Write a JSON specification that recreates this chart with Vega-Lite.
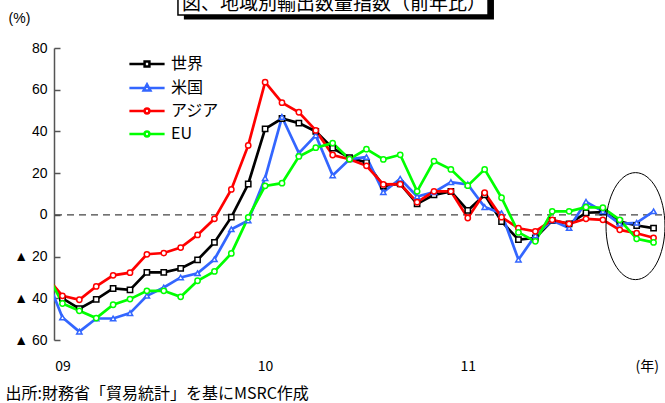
{
  "$schema": "https://vega.github.io/schema/vega-lite/v6.json",
  "autosize": {"type": "none"},
  "width": 608,
  "height": 292,
  "padding": {"left": 54, "top": 48, "right": 3, "bottom": 63},
  "background": "white",
  "config": {"view": {"stroke": null}},
  "datasets": {
    "series": [
      {"m": -1, "s": "世界", "v": -28.7}, {"m": 0, "s": "世界", "v": -40}, {"m": 1, "s": "世界", "v": -45}, {"m": 2, "s": "世界", "v": -40.5}, {"m": 3, "s": "世界", "v": -35.3}, {"m": 4, "s": "世界", "v": -36}, {"m": 5, "s": "世界", "v": -27.6}, {"m": 6, "s": "世界", "v": -27.6}, {"m": 7, "s": "世界", "v": -25.7}, {"m": 8, "s": "世界", "v": -21.6}, {"m": 9, "s": "世界", "v": -13.2}, {"m": 10, "s": "世界", "v": -1.1}, {"m": 11, "s": "世界", "v": 14.8}, {"m": 12, "s": "世界", "v": 41.2}, {"m": 13, "s": "世界", "v": 46.2}, {"m": 14, "s": "世界", "v": 44}, {"m": 15, "s": "世界", "v": 40}, {"m": 16, "s": "世界", "v": 32}, {"m": 17, "s": "世界", "v": 27.4}, {"m": 18, "s": "世界", "v": 25.1}, {"m": 19, "s": "世界", "v": 13.8}, {"m": 20, "s": "世界", "v": 14.9}, {"m": 21, "s": "世界", "v": 5.3}, {"m": 22, "s": "世界", "v": 9.6}, {"m": 23, "s": "世界", "v": 11.2}, {"m": 24, "s": "世界", "v": 2.1}, {"m": 25, "s": "世界", "v": 9.6}, {"m": 26, "s": "世界", "v": -3.2}, {"m": 27, "s": "世界", "v": -11.9}, {"m": 28, "s": "世界", "v": -11.1}, {"m": 29, "s": "世界", "v": -2.7}, {"m": 30, "s": "世界", "v": -4.3}, {"m": 31, "s": "世界", "v": 1}, {"m": 32, "s": "世界", "v": 1.3}, {"m": 33, "s": "世界", "v": -3.2}, {"m": 34, "s": "世界", "v": -5.1}, {"m": 35, "s": "世界", "v": -6.4},
      {"m": -1, "s": "米国", "v": -29}, {"m": 0, "s": "米国", "v": -49.2}, {"m": 1, "s": "米国", "v": -56}, {"m": 2, "s": "米国", "v": -49.7}, {"m": 3, "s": "米国", "v": -49.7}, {"m": 4, "s": "米国", "v": -47.1}, {"m": 5, "s": "米国", "v": -38.8}, {"m": 6, "s": "米国", "v": -34.8}, {"m": 7, "s": "米国", "v": -30}, {"m": 8, "s": "米国", "v": -28}, {"m": 9, "s": "米国", "v": -21.3}, {"m": 10, "s": "米国", "v": -6.9}, {"m": 11, "s": "米国", "v": -2.7}, {"m": 12, "s": "米国", "v": 17.6}, {"m": 13, "s": "米国", "v": 46.9}, {"m": 14, "s": "米国", "v": 29.6}, {"m": 15, "s": "米国", "v": 38.1}, {"m": 16, "s": "米国", "v": 18.9}, {"m": 17, "s": "米国", "v": 26.7}, {"m": 18, "s": "米国", "v": 27.7}, {"m": 19, "s": "米国", "v": 10.9}, {"m": 20, "s": "米国", "v": 17.3}, {"m": 21, "s": "米国", "v": 8.8}, {"m": 22, "s": "米国", "v": 10.9}, {"m": 23, "s": "米国", "v": 15.7}, {"m": 24, "s": "米国", "v": 14.6}, {"m": 25, "s": "米国", "v": 3.7}, {"m": 26, "s": "米国", "v": 0.8}, {"m": 27, "s": "米国", "v": -21.5}, {"m": 28, "s": "米国", "v": -9.9}, {"m": 29, "s": "米国", "v": -2.7}, {"m": 30, "s": "米国", "v": -6.3}, {"m": 31, "s": "米国", "v": 6.3}, {"m": 32, "s": "米国", "v": 1.7}, {"m": 33, "s": "米国", "v": -4.3}, {"m": 34, "s": "米国", "v": -3.8}, {"m": 35, "s": "米国", "v": 1.7},
      {"m": -1, "s": "アジア", "v": -29.3}, {"m": 0, "s": "アジア", "v": -38.8}, {"m": 1, "s": "アジア", "v": -40.7}, {"m": 2, "s": "アジア", "v": -34.3}, {"m": 3, "s": "アジア", "v": -29}, {"m": 4, "s": "アジア", "v": -27.7}, {"m": 5, "s": "アジア", "v": -18.9}, {"m": 6, "s": "アジア", "v": -18.3}, {"m": 7, "s": "アジア", "v": -15.7}, {"m": 8, "s": "アジア", "v": -9.6}, {"m": 9, "s": "アジア", "v": -1.9}, {"m": 10, "s": "アジア", "v": 12.2}, {"m": 11, "s": "アジア", "v": 33.3}, {"m": 12, "s": "アジア", "v": 63.6}, {"m": 13, "s": "アジア", "v": 53.8}, {"m": 14, "s": "アジア", "v": 49.2}, {"m": 15, "s": "アジア", "v": 40.5}, {"m": 16, "s": "アジア", "v": 28.7}, {"m": 17, "s": "アジア", "v": 26.7}, {"m": 18, "s": "アジア", "v": 23.5}, {"m": 19, "s": "アジア", "v": 14.6}, {"m": 20, "s": "アジア", "v": 14.7}, {"m": 21, "s": "アジア", "v": 6.1}, {"m": 22, "s": "アジア", "v": 11.3}, {"m": 23, "s": "アジア", "v": 11.3}, {"m": 24, "s": "アジア", "v": -1.5}, {"m": 25, "s": "アジア", "v": 10.6}, {"m": 26, "s": "アジア", "v": -1.1}, {"m": 27, "s": "アジア", "v": -6.4}, {"m": 28, "s": "アジア", "v": -7.9}, {"m": 29, "s": "アジア", "v": -2.4}, {"m": 30, "s": "アジア", "v": -4.3}, {"m": 31, "s": "アジア", "v": -1.9}, {"m": 32, "s": "アジア", "v": -2.4}, {"m": 33, "s": "アジア", "v": -7.2}, {"m": 34, "s": "アジア", "v": -8.8}, {"m": 35, "s": "アジア", "v": -11},
      {"m": -1, "s": "EU", "v": -26.8}, {"m": 0, "s": "EU", "v": -42.5}, {"m": 1, "s": "EU", "v": -46}, {"m": 2, "s": "EU", "v": -49.5}, {"m": 3, "s": "EU", "v": -43.1}, {"m": 4, "s": "EU", "v": -40.4}, {"m": 5, "s": "EU", "v": -36.4}, {"m": 6, "s": "EU", "v": -36.4}, {"m": 7, "s": "EU", "v": -39.3}, {"m": 8, "s": "EU", "v": -31.6}, {"m": 9, "s": "EU", "v": -27.1}, {"m": 10, "s": "EU", "v": -18.5}, {"m": 11, "s": "EU", "v": -1.2}, {"m": 12, "s": "EU", "v": 13.9}, {"m": 13, "s": "EU", "v": 15.2}, {"m": 14, "s": "EU", "v": 28}, {"m": 15, "s": "EU", "v": 32.2}, {"m": 16, "s": "EU", "v": 34.4}, {"m": 17, "s": "EU", "v": 26.7}, {"m": 18, "s": "EU", "v": 31.5}, {"m": 19, "s": "EU", "v": 26.6}, {"m": 20, "s": "EU", "v": 28.8}, {"m": 21, "s": "EU", "v": 11.3}, {"m": 22, "s": "EU", "v": 25.8}, {"m": 23, "s": "EU", "v": 21.8}, {"m": 24, "s": "EU", "v": 14}, {"m": 25, "s": "EU", "v": 21.8}, {"m": 26, "s": "EU", "v": 8.2}, {"m": 27, "s": "EU", "v": -8.4}, {"m": 28, "s": "EU", "v": -12.7}, {"m": 29, "s": "EU", "v": 1.7}, {"m": 30, "s": "EU", "v": 1.7}, {"m": 31, "s": "EU", "v": 3.7}, {"m": 32, "s": "EU", "v": 3.4}, {"m": 33, "s": "EU", "v": -2.4}, {"m": 34, "s": "EU", "v": -11.5}, {"m": 35, "s": "EU", "v": -13.2}
    ],
    "one": [{}]
  },
  "layer": [
    {
      "data": {"name": "one"},
      "mark": {"type": "rule", "stroke": "#444444", "strokeWidth": 1.2, "strokeDash": [7, 5]},
      "encoding": {"y": {"datum": 0, "type": "quantitative"}}
    },
    {
      "data": {"name": "series"},
      "mark": {"type": "line", "strokeWidth": 2.7, "clip": true},
      "encoding": {
        "x": {"field": "m", "type": "quantitative", "scale": {"domain": [-0.5, 35.5], "nice": false, "zero": false},
          "axis": {"values": [0, 12, 24, 34.6], "labelExpr": "datum.value == 0 ? '09' : datum.value == 12 ? '10' : datum.value == 24 ? '11' : '(年)'",
            "domain": false, "ticks": false, "grid": false, "labelPadding": 26, "labelFont": "Noto Sans CJK JP", "labelFontSize": 14, "labelColor": "#000000", "labelBaseline": "middle",
            "title": "出所:財務省「貿易統計」を基にMSRC作成", "titleX": -49, "titleY": 53, "titleAlign": "left", "titleBaseline": "middle", "titleFont": "Noto Sans CJK JP", "titleFontSize": 16, "titleFontWeight": "normal", "titleColor": "#000000"}},
        "y": {"field": "v", "type": "quantitative", "scale": {"domain": [-60, 80], "nice": false},
          "axis": {"values": [-60, -40, -20, 0, 20, 40, 60, 80], "labelExpr": "datum.value < 0 ? '▲ ' + abs(datum.value) : '' + datum.value",
            "grid": false, "domainColor": "#555555", "domainWidth": 1.5, "tickColor": "#555555", "tickWidth": 1.5, "tickSize": -6, "labelPadding": 13,
            "labelFont": "Liberation Sans", "labelFontSize": 14, "labelColor": "#000000",
            "title": "(%)", "titleAngle": 0, "titleX": -35, "titleY": -30, "titleAlign": "center", "titleBaseline": "middle", "titleFont": "Liberation Sans", "titleFontSize": 14, "titleFontWeight": "normal", "titleColor": "#000000"}},
        "stroke": {"field": "s", "type": "nominal",
          "scale": {"domain": ["世界", "米国", "アジア", "EU"], "range": ["#000000", "#3366ff", "#ff0000", "#00ff00"]},
          "legend": {"title": null, "orient": "none", "legendX": 85, "legendY": 8, "rowPadding": 7, "labelOffset": 16,
            "labelFont": "Noto Sans CJK JP", "labelFontSize": 16, "labelColor": "#000000", "symbolSize": 64, "symbolStrokeWidth": 2.5,
            "encode": {"symbols": {"update": {
              "fill": {"value": "#ffffff"},
              "shape": {"signal": "datum.value === '世界' ? 'M -4.4 0 H -0.6 M 0.6 0 H 4.4 M -0.6 -0.6 H 0.6 V 0.6 H -0.6 Z' : datum.value === '米国' ? 'M -4.4 0 H -0.5 M 0.5 0 H 4.4 M 0 -0.9 L 0.85 0.65 L -0.85 0.65 Z' : 'M -4.4 0 H -0.6 M 0.6 0 H 4.4 M 0.6 0 A 0.6 0.6 0 1 1 -0.6 0 A 0.6 0.6 0 1 1 0.6 0 Z'"}
            }}}}},
        "detail": {"field": "s", "type": "nominal"}
      }
    },
    {
      "data": {"name": "series"},
      "mark": {"type": "point", "filled": false, "fill": "#ffffff", "fillOpacity": 1, "strokeWidth": 1.5, "size": 28, "clip": true, "opacity": 1,
        "shape": {"expr": "datum.s === '世界' ? 'square' : datum.s === '米国' ? 'triangle-up' : 'circle'"}},
      "encoding": {
        "x": {"field": "m", "type": "quantitative"},
        "y": {"field": "v", "type": "quantitative"},
        "stroke": {"field": "s", "type": "nominal"}
      }
    },
    {
      "data": {"name": "one"},
      "mark": {"type": "rect", "fill": "#000000", "clip": false},
      "encoding": {"x": {"datum": 7.19}, "x2": {"datum": 25.55}, "y": {"datum": 93.7}, "y2": {"datum": 112}}
    },
    {
      "data": {"name": "one"},
      "mark": {"type": "rect", "fill": "#ffffff", "stroke": "#000000", "strokeWidth": 1.5, "clip": false},
      "encoding": {"x": {"datum": 6.84}, "x2": {"datum": 25.2}, "y": {"datum": 95.8}, "y2": {"datum": 112}}
    },
    {
      "data": {"name": "one"},
      "mark": {"type": "text", "font": "Noto Sans CJK JP", "fontSize": 19, "align": "center", "baseline": "alphabetic", "color": "#000000", "clip": false},
      "encoding": {"x": {"datum": 16.08}, "y": {"datum": 98.1}, "text": {"value": "図、地域別輸出数量指数（前年比）"}}
    },
    {
      "data": {"name": "one"},
      "mark": {"type": "point", "filled": false, "stroke": "#000000", "strokeWidth": 1, "opacity": 1, "clip": false,
        "shape": "M -0.551 0 A 0.551 1 0 1 0 0.551 0 A 0.551 1 0 1 0 -0.551 0 Z", "size": 11449},
      "encoding": {"x": {"datum": 33.93}, "y": {"datum": -5.4}}
    }
  ]
}
